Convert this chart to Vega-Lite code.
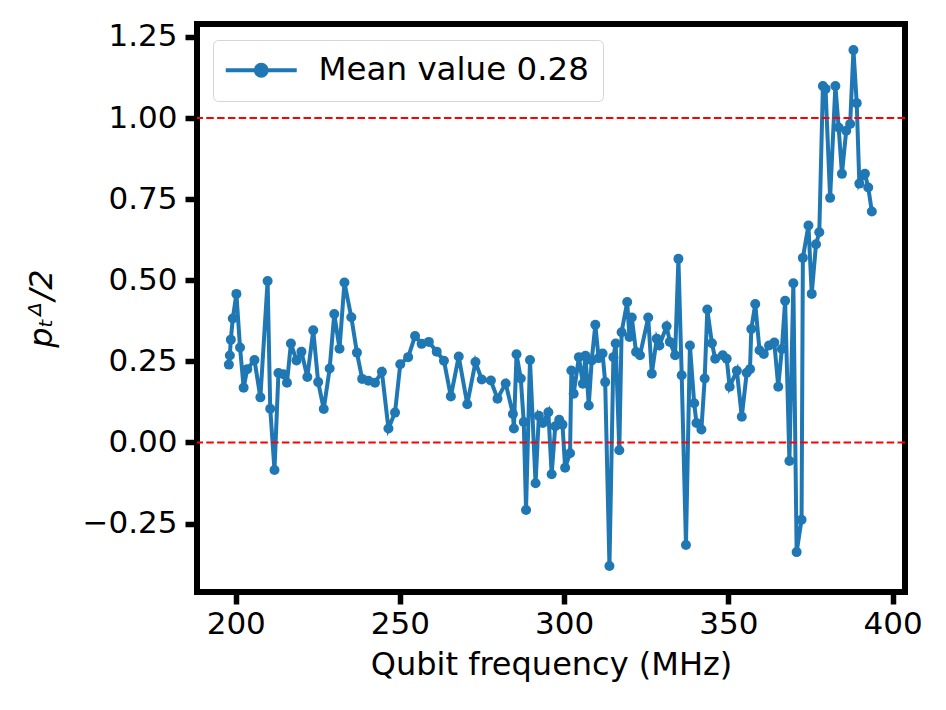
{
  "$schema": "https://vega.github.io/schema/vega-lite/v6.json",
  "width": 708,
  "height": 568,
  "autosize": "none",
  "padding": {"left": 197, "top": 24, "right": 41, "bottom": 118},
  "background": "white",
  "config": {
    "view": {"stroke": "black", "strokeWidth": 6},
    "font": "DejaVu Sans",
    "axis": {
      "grid": false,
      "domain": false,
      "tickColor": "black",
      "tickSize": 12,
      "tickWidth": 5.5,
      "labelFont": "DejaVu Sans",
      "labelFontSize": 31,
      "labelColor": "black",
      "titleFont": "DejaVu Sans",
      "titleFontSize": 32,
      "titleFontWeight": "normal",
      "titleColor": "black"
    },
    "legend": {
      "labelFont": "DejaVu Sans",
      "labelFontSize": 32.5,
      "labelColor": "black",
      "labelLimit": 500
    }
  },
  "datasets": {
    "points": [
      {"freq": 197.9, "p": 0.240}, {"freq": 198.2, "p": 0.268}, {"freq": 198.5, "p": 0.317},
      {"freq": 199.1, "p": 0.382}, {"freq": 200.2, "p": 0.458}, {"freq": 201.3, "p": 0.293},
      {"freq": 202.4, "p": 0.169}, {"freq": 203.5, "p": 0.226}, {"freq": 205.7, "p": 0.254},
      {"freq": 207.5, "p": 0.139}, {"freq": 209.7, "p": 0.498}, {"freq": 210.5, "p": 0.104},
      {"freq": 211.8, "p": -0.085}, {"freq": 213.0, "p": 0.214}, {"freq": 214.5, "p": 0.210},
      {"freq": 215.6, "p": 0.184}, {"freq": 216.8, "p": 0.305}, {"freq": 218.5, "p": 0.253},
      {"freq": 220.0, "p": 0.280}, {"freq": 221.8, "p": 0.202}, {"freq": 223.6, "p": 0.346},
      {"freq": 225.1, "p": 0.186}, {"freq": 226.8, "p": 0.103}, {"freq": 228.6, "p": 0.228},
      {"freq": 230.0, "p": 0.396}, {"freq": 231.6, "p": 0.289}, {"freq": 233.1, "p": 0.493},
      {"freq": 235.2, "p": 0.386}, {"freq": 236.9, "p": 0.277}, {"freq": 238.5, "p": 0.196},
      {"freq": 240.4, "p": 0.190}, {"freq": 242.4, "p": 0.184}, {"freq": 244.5, "p": 0.218},
      {"freq": 246.5, "p": 0.043}, {"freq": 248.5, "p": 0.092}, {"freq": 250.1, "p": 0.241},
      {"freq": 252.5, "p": 0.263}, {"freq": 254.6, "p": 0.328}, {"freq": 256.6, "p": 0.304},
      {"freq": 258.8, "p": 0.310}, {"freq": 261.2, "p": 0.280}, {"freq": 263.4, "p": 0.252},
      {"freq": 265.5, "p": 0.142}, {"freq": 267.9, "p": 0.265}, {"freq": 270.5, "p": 0.118},
      {"freq": 273.0, "p": 0.248}, {"freq": 274.9, "p": 0.194}, {"freq": 277.7, "p": 0.191},
      {"freq": 279.7, "p": 0.135}, {"freq": 282.2, "p": 0.182}, {"freq": 284.4, "p": 0.088},
      {"freq": 284.7, "p": 0.043}, {"freq": 285.5, "p": 0.272}, {"freq": 286.8, "p": 0.197},
      {"freq": 287.7, "p": 0.063}, {"freq": 288.4, "p": -0.208}, {"freq": 289.6, "p": 0.254},
      {"freq": 291.3, "p": -0.126}, {"freq": 292.3, "p": 0.082}, {"freq": 293.5, "p": 0.060},
      {"freq": 295.2, "p": 0.093}, {"freq": 296.2, "p": -0.098}, {"freq": 297.3, "p": 0.050},
      {"freq": 298.5, "p": 0.070}, {"freq": 299.5, "p": 0.055}, {"freq": 300.3, "p": -0.078},
      {"freq": 301.8, "p": -0.033}, {"freq": 302.2, "p": 0.222}, {"freq": 302.9, "p": 0.150},
      {"freq": 304.5, "p": 0.263}, {"freq": 305.7, "p": 0.181}, {"freq": 306.5, "p": 0.267},
      {"freq": 307.5, "p": 0.114}, {"freq": 308.4, "p": 0.253}, {"freq": 309.5, "p": 0.363},
      {"freq": 310.5, "p": 0.260}, {"freq": 311.7, "p": 0.274}, {"freq": 312.5, "p": 0.186},
      {"freq": 313.8, "p": -0.381}, {"freq": 315.0, "p": 0.263}, {"freq": 315.7, "p": 0.305},
      {"freq": 316.8, "p": -0.024}, {"freq": 317.5, "p": 0.340}, {"freq": 319.2, "p": 0.433},
      {"freq": 319.9, "p": 0.325}, {"freq": 320.6, "p": 0.385}, {"freq": 321.9, "p": 0.279},
      {"freq": 323.1, "p": 0.269}, {"freq": 325.6, "p": 0.385}, {"freq": 326.7, "p": 0.212},
      {"freq": 328.2, "p": 0.320}, {"freq": 329.0, "p": 0.299}, {"freq": 331.2, "p": 0.358},
      {"freq": 332.2, "p": 0.310}, {"freq": 333.8, "p": 0.269}, {"freq": 334.8, "p": 0.566},
      {"freq": 335.8, "p": 0.207}, {"freq": 337.1, "p": -0.316}, {"freq": 338.3, "p": 0.299},
      {"freq": 339.6, "p": 0.121}, {"freq": 340.3, "p": 0.060}, {"freq": 341.8, "p": 0.040},
      {"freq": 342.8, "p": 0.197}, {"freq": 343.6, "p": 0.410}, {"freq": 345.0, "p": 0.306},
      {"freq": 346.0, "p": 0.258}, {"freq": 348.3, "p": 0.269}, {"freq": 349.5, "p": 0.258},
      {"freq": 350.4, "p": 0.172}, {"freq": 352.6, "p": 0.221}, {"freq": 354.1, "p": 0.079},
      {"freq": 355.6, "p": 0.215}, {"freq": 356.6, "p": 0.226}, {"freq": 357.0, "p": 0.350},
      {"freq": 358.2, "p": 0.427}, {"freq": 359.5, "p": 0.284}, {"freq": 360.8, "p": 0.273},
      {"freq": 362.4, "p": 0.299}, {"freq": 364.0, "p": 0.308}, {"freq": 365.2, "p": 0.172},
      {"freq": 366.3, "p": 0.288}, {"freq": 367.3, "p": 0.437}, {"freq": 368.6, "p": -0.057},
      {"freq": 369.8, "p": 0.491}, {"freq": 370.8, "p": -0.338}, {"freq": 372.3, "p": -0.238},
      {"freq": 372.7, "p": 0.569}, {"freq": 374.4, "p": 0.669}, {"freq": 375.4, "p": 0.458},
      {"freq": 376.7, "p": 0.611}, {"freq": 377.7, "p": 0.648}, {"freq": 378.8, "p": 1.099},
      {"freq": 379.6, "p": 1.090}, {"freq": 381.0, "p": 0.754}, {"freq": 382.6, "p": 1.099},
      {"freq": 383.6, "p": 0.971}, {"freq": 384.6, "p": 0.828}, {"freq": 385.9, "p": 0.961},
      {"freq": 387.1, "p": 0.982}, {"freq": 388.1, "p": 1.210}, {"freq": 389.1, "p": 1.046},
      {"freq": 389.9, "p": 0.798}, {"freq": 391.6, "p": 0.828}, {"freq": 392.6, "p": 0.786},
      {"freq": 393.7, "p": 0.712}
    ],
    "bounds": [{"level": 0}, {"level": 1}]
  },
  "layer": [
    {
      "data": {"name": "points"},
      "mark": {"type": "line", "strokeWidth": 4},
      "encoding": {
        "x": {
          "field": "freq",
          "type": "quantitative",
          "scale": {"domain": [188.2, 403.8], "nice": false, "zero": false},
          "axis": {
            "values": [200, 250, 300, 350, 400],
            "format": "d",
            "labelPadding": 5,
            "titlePadding": 10
          },
          "title": "Qubit frequency (MHz)"
        },
        "y": {
          "field": "p",
          "type": "quantitative",
          "scale": {"domain": [-0.461, 1.29], "nice": false, "zero": false},
          "axis": {
            "values": [-0.25, 0, 0.25, 0.5, 0.75, 1, 1.25],
            "format": ".2f",
            "labelPadding": 8,
            "titlePadding": 24,
            "titleFontStyle": "italic"
          },
          "title": "pₜᐞ/2"
        },
        "color": {
          "datum": "Mean value 0.28",
          "type": "nominal",
          "scale": {"range": ["#1f77b4"]},
          "legend": {
            "title": null,
            "orient": "top-left",
            "offset": 16,
            "padding": 14,
            "cornerRadius": 5,
            "strokeColor": "#d6d6d6",
            "fillColor": "rgba(255,255,255,0.8)",
            "symbolType": "M-3.55,0L3.55,0M-0.55,0A0.55,0.55 0 1,1 0.55,0A0.55,0.55 0 1,1 -0.55,0Z",
            "symbolSize": 400,
            "symbolOffset": 18,
            "symbolStrokeWidth": 4,
            "symbolFillColor": "#1f77b4",
            "symbolStrokeColor": "#1f77b4",
            "labelOffset": 41,
            "labelFontSize": 32.5,
            "labelLimit": 500
          }
        }
      }
    },
    {
      "data": {"name": "points"},
      "mark": {"type": "circle", "size": 100, "opacity": 1, "color": "#1f77b4"},
      "encoding": {
        "x": {"field": "freq", "type": "quantitative"},
        "y": {"field": "p", "type": "quantitative"}
      }
    },
    {
      "data": {"name": "bounds"},
      "mark": {"type": "rule", "color": "red", "strokeWidth": 2, "strokeDash": [7.5, 3.3]},
      "encoding": {
        "y": {"field": "level", "type": "quantitative"}
      }
    }
  ]
}
